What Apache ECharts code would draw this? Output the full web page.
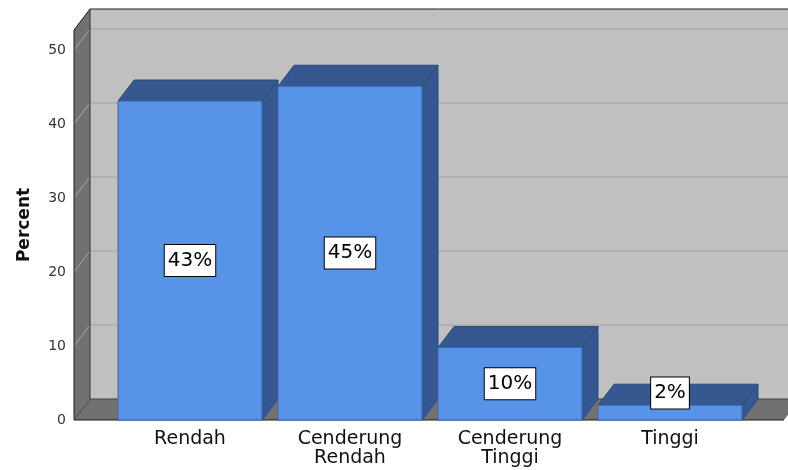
<!DOCTYPE html>
<html>
<head>
<meta charset="utf-8">
<script src="https://cdn.jsdelivr.net/npm/echarts@6/dist/echarts.min.js"></script>
<style>
  html, body { margin: 0; padding: 0; background: #fff; }
  #chart { width: 788px; height: 470px; }
</style>
</head>
<body>
<div id="chart"></div>
<script>
var categories = ['Rendah', 'Cenderung\nRendah', 'Cenderung\nTinggi', 'Tinggi'];
var percents = [43.1, 45.1, 9.8, 2.0];
var barLabels = ['43%', '45%', '10%', '2%'];
var yTicks = [0, 10, 20, 30, 40, 50];
var yMax = 52.7;

// depth of the 3d effect, in pixels
var DX = 16, DY = 21;

var chart = echarts.init(document.getElementById('chart'));

function renderWalls(params, api) {
    var cs = params.coordSys;
    var y0 = api.coord([0, 0])[1];
    var yT = api.coord([0, yMax])[1];
    var xl = cs.x - 36;
    var xr = cs.x + cs.width + 34;
    var wallFill = '#717171';
    var edge = { stroke: '#1a1a1a', lineWidth: 1 };
    var children = [
        { type: 'rect', shape: { x: xl + DX, y: yT - DY, width: xr - xl + 20, height: y0 - yT },
          style: { fill: '#c0c0c0' } },
        { type: 'polygon', shape: { points: [[xl, yT], [xl + DX, yT - DY], [xl + DX, y0 - DY], [xl, y0]] },
          style: { fill: wallFill } },
        { type: 'polygon', shape: { points: [[xl, y0], [xl + DX, y0 - DY], [xr + DX, y0 - DY], [xr, y0]] },
          style: { fill: wallFill } }
    ];
    yTicks.forEach(function (t) {
        if (t === 0) return;
        var y = api.coord([0, t])[1];
        children.push({ type: 'line', shape: { x1: xl + DX, y1: y - DY, x2: xr + 40, y2: y - DY },
            style: { stroke: '#acacac', lineWidth: 1.5 } });
        children.push({ type: 'line', shape: { x1: xl, y1: y, x2: xl + DX, y2: y - DY },
            style: { stroke: '#a8a8a8', lineWidth: 1 } });
    });
    children.push(
        { type: 'line', shape: { x1: xl + DX, y1: yT - DY, x2: xr + 40, y2: yT - DY }, style: edge },
        { type: 'line', shape: { x1: xl, y1: yT, x2: xl + DX, y2: yT - DY }, style: edge },
        { type: 'line', shape: { x1: xl, y1: yT, x2: xl, y2: y0 }, style: edge },
        { type: 'line', shape: { x1: xl + DX, y1: yT - DY, x2: xl + DX, y2: y0 - DY }, style: { stroke: '#333', lineWidth: 1 } },
        { type: 'line', shape: { x1: xl + DX, y1: y0 - DY, x2: xr + 40, y2: y0 - DY }, style: { stroke: '#444', lineWidth: 1 } },
        { type: 'line', shape: { x1: xl, y1: y0, x2: xr, y2: y0 }, style: edge },
        { type: 'line', shape: { x1: xl, y1: y0, x2: xl + DX, y2: y0 - DY }, style: { stroke: '#444', lineWidth: 1 } }
    );
    return { type: 'group', children: children };
}

function renderBar(params, api) {
    var idx = api.value(0);
    var v = api.value(1);
    var base = api.coord([idx, 0]);
    var top = api.coord([idx, v]);
    var band = api.size([1, 0])[0];
    var w = band - DX;
    var x0 = base[0] - w / 2, x1 = base[0] + w / 2;
    var yb = base[1], yt = top[1];
    var cy = Math.min((yb + yt) / 2, yb - 27);
    return {
        type: 'group',
        children: [
            { type: 'polygon', shape: { points: [[x1, yt], [x1 + DX, yt - DY], [x1 + DX, yb - DY], [x1, yb]] },
              style: { fill: '#34588f', stroke: '#2b4a7a', lineWidth: 1 } },
            { type: 'polygon', shape: { points: [[x0, yt], [x0 + DX, yt - DY], [x1 + DX, yt - DY], [x1, yt]] },
              style: { fill: '#34588f', stroke: '#2b4a7a', lineWidth: 1 } },
            { type: 'rect', shape: { x: x0, y: yt, width: w, height: yb - yt },
              style: { fill: '#5794e9', stroke: '#3b68ad', lineWidth: 1 } },
            { type: 'text', x: base[0], y: cy,
              style: {
                  text: barLabels[params.dataIndex],
                  font: '20px "DejaVu Sans"',
                  fill: '#000',
                  align: 'center',
                  verticalAlign: 'middle',
                  lineHeight: 24,
                  backgroundColor: '#fff',
                  borderColor: '#000',
                  borderWidth: 1,
                  padding: [4, 3, 3, 3]
              } }
        ]
    };
}

chart.setOption({
    animation: false,
    grid: { left: 110, right: 38, top: 30, bottom: 50 },
    xAxis: {
        type: 'category',
        data: categories,
        axisLine: { show: false },
        axisTick: { show: false },
        axisLabel: {
            margin: 10,
            color: '#111',
            fontFamily: 'DejaVu Sans',
            fontSize: 19,
            lineHeight: 19,
            interval: 0
        }
    },
    yAxis: {
        type: 'value',
        min: 0,
        max: yMax,
        interval: 10,
        offset: 36,
        name: 'Percent',
        nameLocation: 'middle',
        nameGap: 41,
        nameTextStyle: { fontFamily: 'DejaVu Sans', fontSize: 17, fontWeight: 'bold', color: '#111' },
        axisLine: { show: false },
        axisTick: { show: false },
        splitLine: { show: false },
        axisLabel: {
            margin: 8,
            color: '#333',
            fontFamily: 'DejaVu Sans',
            fontSize: 14,
            formatter: function (v) { return yTicks.indexOf(v) >= 0 ? String(v) : ''; }
        }
    },
    series: [
        {
            type: 'custom',
            name: 'walls',
            renderItem: renderWalls,
            data: [[0, 0]],
            z: 1,
            silent: true
        },
        {
            type: 'custom',
            name: 'Percent',
            renderItem: renderBar,
            data: percents.map(function (v, i) { return [i, v]; }),
            z: 2
        }
    ]
});
</script>
</body>
</html>
